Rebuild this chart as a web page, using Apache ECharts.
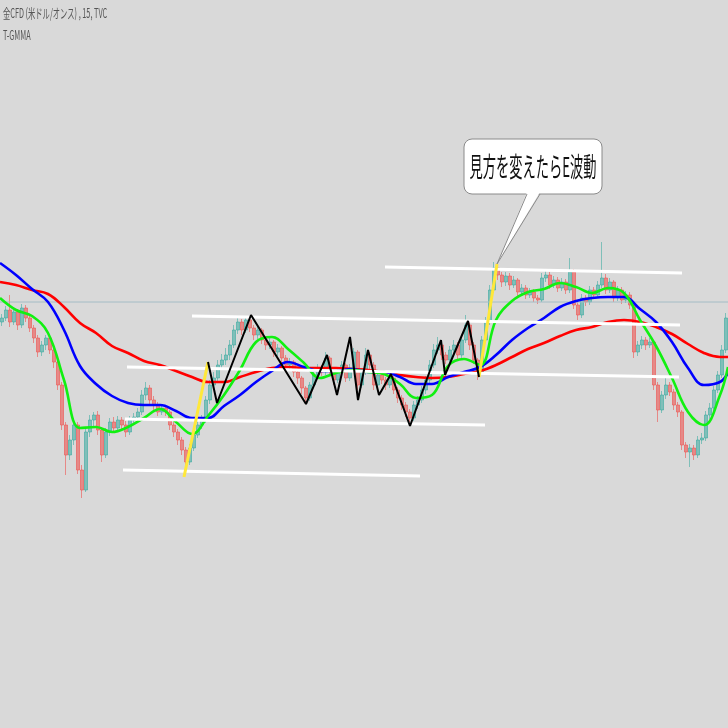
<!DOCTYPE html>
<html>
<head>
<meta charset="utf-8">
<script src="https://cdn.jsdelivr.net/npm/echarts@6/dist/echarts.min.js"></script>
<style>
html,body{margin:0;padding:0;background:#d9d9d9;}
#c{width:728px;height:728px;}
</style>
</head>
<body>
<div id="c"></div>
<script>
// ---- Candles (15-minute bars), prices in USD/oz ----
const opens = [1967.8,1968.2,1969.0,1967.8,1968.8,1967.5,1969.2,1968.2,1967.2,1966.2,
1964.8,1965.5,1966.2,1965.0,1963.8,1961.5,1957.5,1954.5,1956.0,1957.5,
1953.0,1951.0,1956.8,1958.0,1958.5,1957.0,1954.5,1956.8,1957.8,1957.2,
1958.0,1957.5,1956.8,1958.0,1958.3,1958.8,1960.5,1961.2,1960.0,1959.5,
1958.8,1959.2,1958.8,1957.5,1956.8,1956.0,1955.0,1953.8,1955.2,1956.5,
1957.5,1958.0,1960.0,1961.5,1962.2,1963.5,1964.0,1964.5,1965.5,1967.0,
1967.8,1967.0,1968.0,1967.2,1966.5,1967.0,1966.0,1965.5,1965.8,1964.8,
1965.2,1964.2,1963.5,1963.8,1962.8,1962.2,1961.2,1960.2,1961.5,1962.5,
1963.2,1962.8,1964.2,1963.0,1962.0,1962.8,1963.5,1962.2,1963.2,1964.8,
1961.5,1962.8,1964.5,1963.5,1961.5,1962.5,1962.0,1961.5,1962.2,1961.0,
1960.2,1959.5,1958.8,1958.2,1959.5,1960.0,1961.0,1962.0,1963.5,1965.0,
1965.5,1964.5,1964.0,1965.0,1965.5,1964.5,1966.0,1967.5,1965.5,1964.0,
1962.8,1966.0,1967.8,1971.0,1973.2,1972.5,1971.8,1972.4,1971.5,1972.0,
1970.8,1971.2,1970.5,1970.8,1970.2,1970.0,1972.2,1972.5,1971.5,1972.0,
1971.2,1971.8,1971.0,1972.8,1969.5,1968.5,1970.2,1969.8,1971.0,1970.5,
1971.5,1972.2,1971.0,1971.8,1970.2,1971.0,1970.0,1970.5,1969.5,1964.8,
1965.5,1966.0,1965.5,1965.8,1961.5,1959.0,1960.5,1961.5,1960.8,1959.5,
1958.8,1955.5,1954.8,1955.2,1954.5,1956.0,1956.2,1958.5,1959.2,1961.0,
1962.5,1965.0];
const closes = [1968.2,1969.0,1967.8,1968.8,1967.5,1969.2,1968.2,1967.2,1966.2,1964.8,
1965.5,1966.2,1965.0,1963.8,1961.5,1957.5,1954.5,1956.0,1957.5,1953.0,
1951.0,1956.8,1958.0,1958.5,1957.0,1954.5,1956.8,1957.8,1957.2,1958.0,
1957.5,1956.8,1958.0,1958.3,1958.8,1960.5,1961.2,1960.0,1959.5,1958.8,
1959.2,1958.8,1957.5,1956.8,1956.0,1955.0,1953.8,1955.2,1956.5,1957.5,
1958.0,1960.0,1961.5,1962.2,1963.5,1964.0,1964.5,1965.5,1967.0,1967.8,
1967.0,1968.0,1967.2,1966.5,1967.0,1966.0,1965.5,1965.8,1964.8,1965.2,
1964.2,1963.5,1963.8,1962.8,1962.2,1961.2,1960.2,1961.5,1962.5,1963.2,
1962.8,1964.2,1963.0,1962.0,1962.8,1963.5,1962.2,1963.2,1964.8,1961.5,
1962.8,1964.5,1963.5,1961.5,1962.5,1962.0,1961.5,1962.2,1961.0,1960.2,
1959.5,1958.8,1958.2,1959.5,1960.0,1961.0,1962.0,1963.5,1965.0,1965.5,
1964.5,1964.0,1965.0,1965.5,1964.5,1966.0,1967.5,1965.5,1964.0,1962.8,
1966.0,1967.8,1971.0,1973.2,1972.5,1971.8,1972.4,1971.5,1972.0,1970.8,
1971.2,1970.5,1970.8,1970.2,1970.0,1972.2,1972.5,1971.5,1972.0,1971.2,
1971.8,1971.0,1972.8,1969.5,1968.5,1970.2,1969.8,1971.0,1970.5,1971.5,
1972.2,1971.0,1971.8,1970.2,1971.0,1970.0,1970.5,1969.5,1964.8,1965.5,
1966.0,1965.5,1965.8,1961.5,1959.0,1960.5,1961.5,1960.8,1959.5,1958.8,
1955.5,1954.8,1955.2,1954.5,1956.0,1956.2,1958.5,1959.2,1961.0,1962.5,
1965.0,1968.2];
const lows = [1967.4,1967.9,1967.3,1967.5,1967.0,1967.2,1967.8,1966.8,1965.7,1964.3,
1964.4,1965.0,1964.6,1963.2,1961.0,1957.0,1952.5,1954.0,1955.5,1952.6,
1950.2,1950.8,1956.3,1957.4,1956.5,1953.8,1954.2,1956.4,1956.8,1956.9,
1957.0,1956.3,1956.5,1957.6,1957.9,1958.5,1960.0,1959.6,1959.0,1958.4,
1958.5,1958.4,1957.0,1956.3,1955.5,1954.5,1953.2,1953.5,1954.9,1956.2,
1957.1,1957.7,1959.6,1961.0,1961.8,1963.0,1963.5,1964.0,1965.2,1966.6,
1966.5,1966.7,1966.8,1966.0,1966.1,1965.6,1965.0,1965.1,1964.3,1964.4,
1963.7,1963.0,1963.1,1962.3,1961.6,1960.6,1959.7,1959.9,1961.2,1962.1,
1962.4,1962.5,1962.6,1961.5,1961.7,1962.4,1961.8,1961.9,1962.9,1961.0,
1961.2,1962.5,1963.1,1961.0,1961.2,1961.6,1961.0,1961.2,1960.6,1959.7,
1959.0,1958.3,1957.7,1957.9,1959.1,1959.7,1960.6,1961.7,1963.2,1964.6,
1964.0,1963.6,1963.7,1964.6,1964.1,1964.2,1965.7,1965.0,1963.6,1962.0,
1962.5,1965.7,1967.5,1970.7,1972.0,1971.3,1971.4,1971.0,1971.2,1970.4,
1970.5,1970.1,1970.2,1969.8,1969.6,1969.8,1971.8,1971.1,1971.2,1970.8,
1970.9,1970.6,1970.7,1969.1,1968.0,1968.2,1969.4,1969.5,1970.1,1970.2,
1971.2,1970.6,1970.7,1969.8,1969.9,1969.6,1969.7,1969.1,1964.2,1964.4,
1965.1,1965.0,1965.2,1961.0,1957.8,1958.7,1960.1,1960.4,1959.0,1958.3,
1955.0,1954.2,1953.3,1954.0,1954.2,1955.6,1955.9,1958.1,1958.8,1960.7,
1962.2,1964.7];
const highs = [1968.6,1969.4,1970.5,1969.3,1969.1,1969.6,1969.5,1968.5,1967.5,1966.5,
1965.9,1966.5,1966.4,1965.3,1964.0,1961.8,1957.8,1956.5,1958.2,1957.8,
1953.5,1957.2,1958.5,1958.8,1958.9,1957.3,1957.2,1958.2,1958.3,1958.4,
1958.3,1957.9,1958.4,1958.7,1959.2,1961.0,1961.8,1961.5,1960.4,1959.8,
1959.6,1959.5,1959.0,1957.8,1957.1,1956.3,1955.3,1955.6,1956.9,1957.9,
1958.5,1960.4,1962.0,1962.8,1964.0,1964.6,1965.2,1966.0,1967.5,1968.2,
1968.1,1968.4,1968.3,1967.5,1967.4,1967.2,1966.3,1966.2,1966.0,1965.6,
1965.4,1964.5,1964.2,1964.0,1963.1,1962.4,1961.4,1961.8,1962.9,1963.6,
1963.5,1964.8,1964.4,1963.2,1963.2,1963.9,1963.7,1963.6,1965.2,1965.0,
1963.1,1965.2,1964.8,1963.8,1962.9,1962.8,1962.3,1962.6,1962.4,1961.3,
1960.5,1959.8,1959.1,1959.9,1960.4,1961.4,1962.4,1964.0,1965.6,1966.3,
1965.8,1964.8,1965.4,1966.0,1965.8,1966.5,1968.5,1967.8,1965.8,1964.2,
1966.4,1968.3,1971.5,1973.8,1973.5,1972.8,1972.8,1972.7,1972.4,1972.2,
1971.6,1971.5,1971.2,1971.1,1970.5,1972.7,1973.0,1972.8,1972.4,1972.3,
1972.2,1972.1,1974.2,1973.1,1969.8,1970.6,1970.5,1971.4,1971.3,1971.9,
1975.8,1972.6,1972.2,1972.0,1971.4,1971.3,1970.9,1970.8,1969.8,1965.9,
1966.4,1966.3,1966.2,1966.0,1961.8,1960.9,1962.2,1961.8,1961.1,1959.8,
1959.0,1955.8,1955.6,1955.5,1956.4,1956.7,1958.9,1959.7,1961.4,1962.9,
1965.5,1968.7];

// ---- T-GMMA moving averages, sampled along the bar index ----
const maIndex = [0,4,8,12,16,20,24,28,32,36,40,44,48,52,56,60,64,68,72,76,80,84,88,92,96,100,
104,108,112,116,120,124,128,132,136,140,144,148,152,156,160,164,168,172,176,180,182];
const maGreen = [1970.2,1969.0,1968.4,1966.7,1962.0,1957.2,1957.3,1956.8,1957.3,1958.2,1959.1,1957.8,
1956.6,1958.4,1960.5,1963.0,1965.8,1966.3,1965.1,1963.7,1962.2,1962.7,1963.0,1962.8,1962.6,1961.6,
1960.2,1960.5,1963.4,1964.1,1963.5,1968.0,1969.9,1970.8,1971.1,1971.7,1971.3,1970.7,1971.2,1970.7,
1968.0,1965.4,1962.2,1958.8,1957.5,1960.5,1963.3];
const maBlue = [1973.7,1972.5,1971.1,1969.8,1967.0,1963.4,1961.6,1960.4,1959.7,1959.5,1959.5,1958.9,
1958.2,1958.2,1959.4,1960.5,1961.8,1962.9,1963.8,1963.3,1962.9,1962.9,1963.1,1962.8,1962.8,1962.3,
1961.6,1961.6,1962.3,1962.8,1963.3,1964.5,1966.0,1967.2,1968.2,1969.3,1969.9,1970.2,1970.3,1970.3,
1969.1,1967.8,1965.8,1963.2,1961.5,1961.8,1962.7];
const maRed = [1971.8,1971.5,1971.0,1970.6,1969.3,1967.7,1966.7,1965.4,1964.7,1963.9,1963.5,1962.9,
1962.3,1961.8,1961.8,1962.3,1962.8,1963.2,1963.3,1963.2,1963.2,1963.2,1963.1,1963.0,1962.8,1962.5,
1962.3,1962.2,1962.3,1962.6,1962.9,1963.5,1964.3,1965.1,1965.7,1966.4,1967.0,1967.3,1967.8,1968.0,
1967.8,1967.3,1966.6,1965.6,1964.7,1964.3,1964.3];

// ---- Hand-drawn annotations (bar index, price) ----
const whiteLines = [
  [[96.25,1973.3],[170.5,1972.7]],
  [[48,1968.4],[170,1967.5]],
  [[31.75,1963.3],[169.75,1962.3]],
  [[31.25,1958.1],[121.25,1957.5]],
  [[30.75,1953.0],[105,1952.4]]
];
const yellowLines = [
  [[46,1952.3],[52,1963.8]],
  [[119.75,1962.3],[124.25,1973.6]]
];
const zigzag = [[52,1963.8],[54.25,1959.7],[62.75,1968.5],[76.5,1959.6],[81.75,1964.5],[84.25,1960.5],
[87.5,1966.3],[89.5,1960.0],[92,1965.0],[94.75,1960.5],[97.75,1962.6],[102.5,1957.4],[110.25,1966.0],
[111.25,1962.5],[117,1967.9],[119.75,1962.3]];
const priceLine = 1969.8;
const calloutAnchor = [124.25,1973.6];
const calloutText = '見方を変えたらE波動';
const titleText = '金CFD (米ドル/オンス) , 15, TVC';
const indicatorText = 'T-GMMA';

const categories = closes.map((_, i) => String(i));
const candleData = opens.map((o, i) => [o, closes[i], lows[i], highs[i]]);

const chart = echarts.init(document.getElementById('c'), null, {renderer: 'canvas'});

function maSeries(name, vals, color, z) {
  return {
    name, type: 'line', xAxisIndex: 1, yAxisIndex: 0,
    data: maIndex.map((x, i) => [x, vals[i]]),
    smooth: 0.4, symbol: 'none', z,
    lineStyle: {color, width: 2.6}
  };
}
function segSeries(seg, color, width, z) {
  return {
    type: 'line', xAxisIndex: 1, yAxisIndex: 0, data: seg,
    symbol: 'none', z, lineStyle: {color, width}, silent: true
  };
}

const series = [
  {
    type: 'candlestick', xAxisIndex: 0, yAxisIndex: 0, data: candleData, barWidth: 3, z: 1,
    itemStyle: {
      color: 'rgba(38,166,154,0.5)', color0: 'rgba(239,83,80,0.6)',
      borderColor: 'rgba(38,166,154,0.5)', borderColor0: 'rgba(239,83,80,0.6)', borderWidth: 1
    }
  },
  segSeries([[0, priceLine],[182, priceLine]], '#a4bcc5', 1, 2),
  maSeries('red', maRed, '#ff0000', 3),
  maSeries('blue', maBlue, '#0000ff', 4),
  maSeries('green', maGreen, '#11f011', 5),
];
whiteLines.forEach(s => series.push(segSeries(s, '#ffffff', 3, 6)));
yellowLines.forEach(s => series.push(segSeries(s, '#ffe83a', 3, 7)));
series.push(segSeries(zigzag, '#000000', 2, 8));

chart.setOption({
  animation: false,
  backgroundColor: '#d9d9d9',
  grid: {left: 0, right: 0, top: 0, bottom: 0},
  xAxis: [
    {type: 'category', data: categories, boundaryGap: true, show: false},
    {type: 'value', min: 0, max: 182, show: false}
  ],
  yAxis: [{type: 'value', min: 1927.2, max: 2000, show: false}],
  series
});

const T = chart.convertToPixel({xAxisIndex: 1, yAxisIndex: 0}, calloutAnchor);
const bx = T[0] - 33, by = T[1] - 125, bw = 138, bh = 55;
chart.setOption({
  graphic: [
    {type: 'text', x: 3, y: 7, scaleX: 0.56, style: {text: titleText, x: 0, y: 0, fill: '#555', font: '13px "Noto Sans CJK JP"'}},
    {type: 'text', x: 3, y: 29, scaleX: 0.56, style: {text: indicatorText, x: 0, y: 0, fill: '#555', font: '13px "Noto Sans CJK JP"'}},
    {type: 'rect', shape: {x: bx, y: by, width: bw, height: bh, r: 8}, style: {fill: '#ffffff', stroke: '#8a8a8a', lineWidth: 1}, z: 100},
    {type: 'polygon', shape: {points: [[T[0]+30, by+bh-2],[T[0]+43, by+bh-2],[T[0], T[1]]]}, style: {fill: '#ffffff'}, z: 101},
    {type: 'polyline', shape: {points: [[T[0]+30, by+bh],[T[0], T[1]],[T[0]+43, by+bh]]}, style: {stroke: '#8a8a8a', lineWidth: 1, fill: null}, z: 102},
    {type: 'text', x: bx + bw/2, y: by + bh/2, scaleX: 0.49, z: 103,
     style: {text: calloutText, x: 0, y: 0, align: 'center', verticalAlign: 'middle', fill: '#111', font: '27px "Noto Sans CJK JP"'}}
  ]
});
</script>
</body>
</html>
